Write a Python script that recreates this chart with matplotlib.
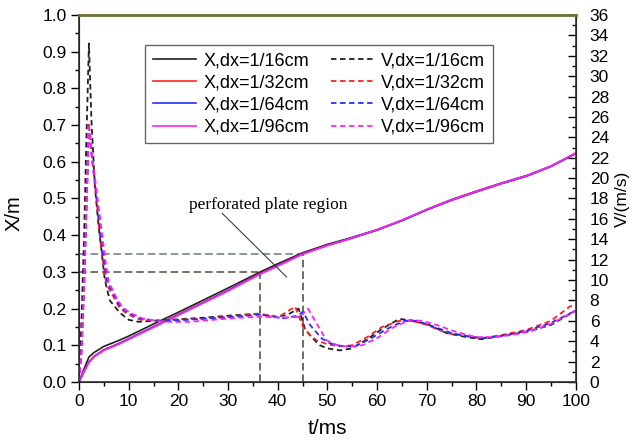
import numpy as np
import matplotlib
matplotlib.use("Agg")
import matplotlib.pyplot as plt
from matplotlib.ticker import MultipleLocator, FormatStrFormatter

plt.rcParams['font.family'] = ['Liberation Sans', 'DejaVu Sans']

labels = ["dx=1/16cm", "dx=1/32cm", "dx=1/64cm", "dx=1/96cm"]
colors = ["#202020", "#ff2020", "#2030ff", "#ff20ff"]

# displacement X (m) vs time (ms)
t_x = [0, 1, 2, 3, 5, 8, 10, 15, 20, 25, 30, 36.5, 40, 45, 50, 54, 60,
       65, 70, 75, 80, 85, 90, 95, 100]
x_16 = [0, 0.035, 0.068, 0.080, 0.097, 0.113, 0.125, 0.158, 0.190, 0.223,
        0.256, 0.300, 0.322, 0.352, 0.375, 0.390, 0.415, 0.440, 0.470,
        0.497, 0.520, 0.542, 0.562, 0.588, 0.623]
x_32 = [0, 0.030, 0.055, 0.070, 0.088, 0.105, 0.118, 0.151, 0.184, 0.217,
        0.250, 0.296, 0.318, 0.350, 0.373, 0.388, 0.414, 0.440, 0.469,
        0.496, 0.519, 0.541, 0.561, 0.588, 0.624]
x_64 = [0, 0.029, 0.054, 0.069, 0.087, 0.104, 0.117, 0.150, 0.183, 0.216,
        0.249, 0.295, 0.317, 0.349, 0.372, 0.388, 0.414, 0.440, 0.469,
        0.495, 0.518, 0.540, 0.560, 0.587, 0.622]
x_96 = [0, 0.028, 0.053, 0.068, 0.086, 0.103, 0.116, 0.149, 0.182, 0.215,
        0.248, 0.294, 0.316, 0.348, 0.372, 0.388, 0.415, 0.441, 0.470,
        0.496, 0.519, 0.541, 0.561, 0.588, 0.623]

# velocity V (m/s) vs time (ms)
t_v16 = [0, 0.5, 1, 1.5, 2, 2.5, 3.2, 4, 4.6, 5.2, 6.2, 8.2, 10, 12, 15, 20,
         25, 30, 36, 38, 40, 42, 44.2, 45.5, 47, 48.5, 50, 52.5, 55, 58, 61,
         64.5, 67, 70, 74, 78, 81, 85, 90, 95, 100]
v_16 = [0, 6, 14, 24, 33.2, 25.7, 19.2, 15.0, 12.6, 10.0, 8.0, 6.8, 6.1, 5.9,
        6.0, 6.15, 6.3, 6.5, 6.7, 6.5, 6.4, 6.6, 7.2, 5.2, 4.3, 3.6, 3.3, 3.1,
        3.3, 4.2, 5.2, 6.2, 6.0, 5.7, 4.8, 4.4, 4.2, 4.5, 4.9, 5.6, 7.0]
t_v32 = [0, 0.5, 1, 1.5, 2, 2.5, 3.6, 4.2, 4.9, 5.5, 6.9, 8, 9.6, 12.3, 16.3,
         20, 25, 30, 36.4, 37.8, 40.1, 43.5, 45.1, 46.5, 47.8, 50, 52.5, 55,
         58, 61, 64.5, 67, 70, 74, 78, 81, 85, 90, 95, 98.8, 100]
v_32 = [0, 3, 9, 17, 25.4, 22.5, 17.5, 14.3, 11.5, 9.6, 8.4, 7.4, 6.7, 6.1,
        6.0, 6.1, 6.2, 6.4, 6.7, 6.57, 6.35, 7.4, 5.4, 4.6, 4.1, 3.7, 3.5,
        3.6, 4.4, 5.4, 6.0, 6.0, 5.6, 4.8, 4.5, 4.3, 4.6, 5.1, 6.0, 7.4, 7.6]
t_v64 = [0, 0.5, 1, 1.5, 2, 2.6, 3.8, 4.4, 5.1, 5.7, 7.1, 8.2, 9.8, 12.5,
         16.3, 20, 25, 30, 36.4, 38, 41.1, 44, 45.1, 46.5, 48.8, 50.5, 53,
         55.5, 58.5, 62, 65.5, 68, 71, 75, 79, 82, 86, 90, 95, 100]
v_64 = [0, 3, 9, 17, 25.0, 22.0, 17.3, 14.3, 11.6, 9.8, 8.5, 7.5, 6.8, 6.2,
        6.0, 6.05, 6.2, 6.35, 6.6, 6.5, 6.25, 6.5, 6.9, 5.6, 4.3, 3.8, 3.5,
        3.5, 4.2, 5.2, 6.0, 6.0, 5.5, 4.8, 4.4, 4.3, 4.6, 5.0, 5.8, 7.0]
t_v96 = [0, 0.5, 1, 1.5, 2, 2.7, 4.0, 4.7, 5.4, 6.0, 7.4, 8.6, 10.2, 13,
         17, 22.3, 27, 32, 37, 41, 44.5, 46.1, 48, 49.8, 52, 54.5, 57, 60,
         63, 66.6, 69, 72, 76, 80, 83, 87, 91, 95, 100]
v_96 = [0, 3, 9, 17, 25.0, 22.0, 17.0, 14.3, 11.6, 9.8, 8.4, 7.4, 6.8, 6.2,
        5.9, 5.9, 6.1, 6.3, 6.4, 6.3, 6.4, 7.2, 5.6, 4.1, 3.6, 3.45, 3.6,
        4.3, 5.3, 6.1, 6.0, 5.6, 4.9, 4.4, 4.4, 4.6, 5.0, 5.7, 7.0]

x_series = [x_16, x_32, x_64, x_96]
v_series = [(t_v16, v_16), (t_v32, v_32), (t_v64, v_64), (t_v96, v_96)]

# perforated plate region markers
t_enter, x_enter = 36.5, 0.30
t_exit, x_exit = 45, 0.35

fig = plt.figure(figsize=(6.32, 4.43), dpi=100)
ax = fig.add_axes([0.125, 0.1377, 0.786, 0.8285])
ax2 = ax.twinx()

ax.plot([0, t_enter], [x_enter, x_enter], ls=(0, (5, 2.5)), lw=1.1, color="#5a4838")
ax.plot([0, t_exit], [x_exit, x_exit], ls=(0, (5, 2.5)), lw=1.1, color="#687888")
ax.plot([t_enter, t_enter], [0, x_enter], ls=(0, (5, 2.5)), lw=1.1, color="#404838")
ax.plot([t_exit, t_exit], [0, x_exit], ls=(0, (5, 2.5)), lw=1.1, color="#404838")

handles = []
for xs, c, lab in zip(x_series, colors, labels):
    h, = ax.plot(t_x, xs, color=c, lw=1.2, label="X," + lab)
    handles.append(h)
for (tv, vv), c, lab in zip(v_series, colors, labels):
    h, = ax2.plot(tv, vv, color=c, lw=1.3, ls=(0, (3, 2)), label="V," + lab)
    handles.append(h)

ax.text(38.0, 0.483, "perforated plate region", ha="center", va="center",
        fontsize=12.5, family="Liberation Serif")
ax.annotate("", xy=(41.8, 0.286), xytext=(28.8, 0.46),
            arrowprops=dict(arrowstyle="-", color="#404040", lw=0.8,
                            shrinkA=0, shrinkB=0))

ax.set_xlim(0, 100)
ax.set_ylim(0, 1.0)
ax2.set_ylim(0, 36)

ax.xaxis.set_major_locator(MultipleLocator(10))
ax.xaxis.set_minor_locator(MultipleLocator(5))
ax.yaxis.set_major_locator(MultipleLocator(0.1))
ax.yaxis.set_minor_locator(MultipleLocator(0.05))
ax.yaxis.set_major_formatter(FormatStrFormatter("%.1f"))
ax2.yaxis.set_major_locator(MultipleLocator(2))
ax2.yaxis.set_minor_locator(MultipleLocator(1))

ax.tick_params(which="major", direction="out", length=5.5, width=1, labelsize=12.5)
ax.tick_params(which="minor", direction="out", length=3, width=1)
ax2.tick_params(which="major", direction="in", length=5.5, width=1, labelsize=12.5, pad=10)
ax2.tick_params(which="minor", direction="in", length=3, width=1)

ax.set_xlabel("t/ms", fontsize=15, labelpad=7)
ax.set_ylabel("X/m", fontsize=14.5)
ax2.set_ylabel("V/(m/s)", fontsize=12.5, labelpad=4)
ax.yaxis.set_label_coords(-0.112, 0.46)

for sp in ax2.spines.values():
    sp.set_color("#303030")
    sp.set_linewidth(1.2)
ax2.spines["top"].set_color("#70703c")
ax2.spines["top"].set_linewidth(2)

leg = ax.legend(handles=handles, ncol=2, loc="upper left",
                bbox_to_anchor=(0.133, 0.918), borderaxespad=0,
                fontsize=13, frameon=True, fancybox=False, edgecolor="#404040",
                handlelength=2.4, handletextpad=0.4, columnspacing=1.2,
                labelspacing=0.28, borderpad=0.42)
leg.get_frame().set_linewidth(1)
leg.remove()
ax2.add_artist(leg)

fig.savefig("out.png", dpi=100)
